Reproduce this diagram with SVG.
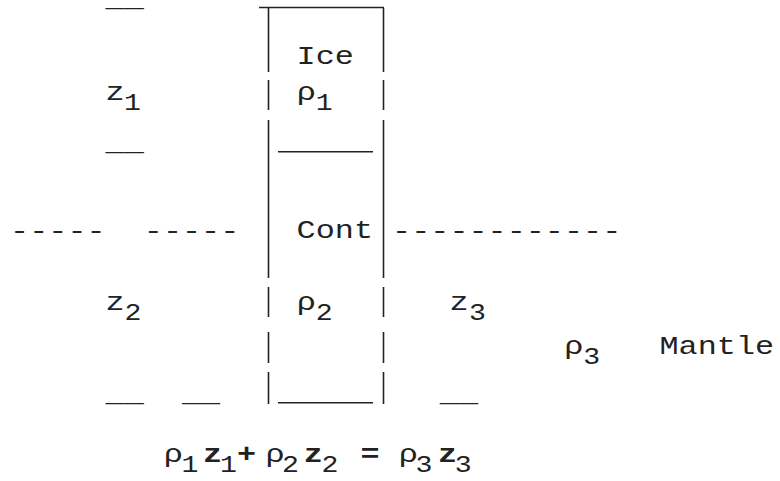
<svg xmlns="http://www.w3.org/2000/svg" width="780" height="481" viewBox="0 0 780 481">
<style>
.m{font-family:"Liberation Mono","Courier New",monospace;font-size:26px;fill:#222}
.s{font-size:23px}
.b{font-weight:bold}
.c{text-anchor:middle}
.w{stroke:#222;stroke-width:1.6;fill:none}
</style>
<rect width="780" height="481" fill="#fff"/>
<g id="ice-block">
<path class="w" d="M259 7.5H384M268.5 8V72M383.5 8V72M268.5 80V110M383.5 80V110M268.5 120V152M383.5 120V152M278 151.7H373"/>
<g transform="scale(1.2244 1)">
<text class="m" x="242.25" y="64">Ice</text>
<text class="m c" y="100"><tspan x="250.1">ρ</tspan><tspan class="s" x="264.8" y="110">1</tspan></text>
</g>
</g>
<g id="continent-block">
<path class="w" d="M268.5 152V278M383.5 152V278M268.5 287V317M383.5 287V317M268.5 332V363M383.5 332V363M268.5 372V404M383.5 372V404M278 402.7H373"/>
<g transform="scale(1.2244 1)">
<text class="m" x="242.25" y="238.3">Cont</text>
<text class="m c" y="310"><tspan x="250.1">ρ</tspan><tspan class="s" x="264.8" y="320">2</tspan></text>
</g>
</g>
<g id="mantle">
<g transform="scale(1.2244 1)">
<text class="m" x="8.25" y="239">-----</text>
<text class="m" x="117.45" y="239">-----</text>
<text class="m" x="320.25" y="239">------------</text>
<text class="m c" y="354.3"><tspan x="468.6">ρ</tspan><tspan class="s" x="483.3" y="364">3</tspan></text>
<text class="m" x="538.65" y="354.3">Mantle</text>
</g>
</g>
<g id="thickness-labels">
<g transform="scale(1.2244 1)">
<text class="m" x="86.25" y="5.5">__</text>
<text class="m c" y="100"><tspan x="94.05">z</tspan><tspan class="s" x="108.2" y="110">1</tspan></text>
<text class="m" x="86.25" y="150.5">__</text>
<text class="m c" y="310"><tspan x="94.05">z</tspan><tspan class="s" x="108.5" y="320">2</tspan></text>
<text class="m c" y="310"><tspan x="374.9">z</tspan><tspan class="s" x="390" y="320">3</tspan></text>
<text class="m" x="86.25" y="401.5">__</text>
<text class="m" x="148.65" y="401.5">__</text>
<text class="m" x="359.25" y="401.5">__</text>
</g>
</g>
<g id="equation">
<g transform="scale(1.2244 1)">
<text class="m c" y="461.7"><tspan x="141.5">ρ</tspan><tspan class="s" x="155.2" y="472">1</tspan><tspan class="b" x="173.6" y="461.7">z</tspan><tspan class="s" x="186.5" y="472">1</tspan><tspan class="b" x="201.3" y="461.7">+</tspan><tspan x="224.6">ρ</tspan><tspan class="s" x="237.3" y="472">2</tspan><tspan class="b" x="255.9" y="461.7">z</tspan><tspan class="s" x="269.5" y="472">2</tspan><tspan class="b" x="302.2" y="461.7">=</tspan><tspan x="333.5">ρ</tspan><tspan class="s" x="346.3" y="472">3</tspan><tspan class="b" x="365.5" y="461.7">z</tspan><tspan class="s" x="378.4" y="472">3</tspan></text>
</g>
</g>
</svg>
